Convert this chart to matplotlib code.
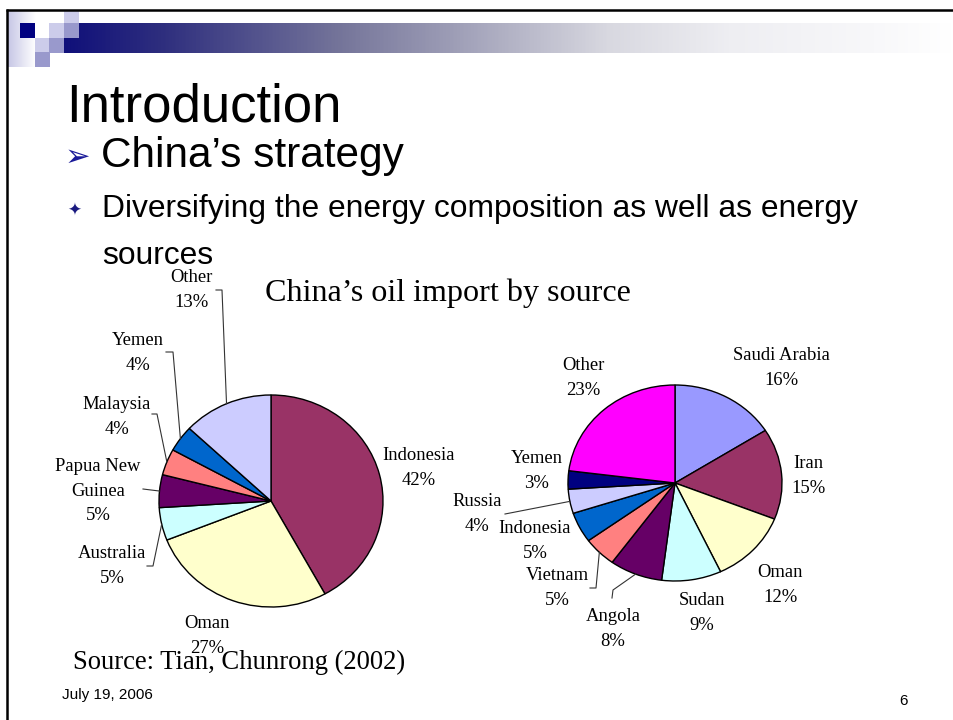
import matplotlib
matplotlib.use("Agg")
import matplotlib.pyplot as plt
import numpy as np
from matplotlib.patches import Rectangle
from matplotlib.colors import LinearSegmentedColormap

# ---------------- data ----------------
left_sources = ["Indonesia", "Oman", "Australia", "Papua New\nGuinea", "Malaysia", "Yemen", "Other"]
left_shares = [42, 27, 5, 5, 4, 4, 13]
left_colors = ["#993366", "#ffffcc", "#ccffff", "#660066", "#ff8080", "#0066cc", "#ccccff"]

right_sources = ["Saudi Arabia", "Iran", "Oman", "Sudan", "Angola", "Vietnam",
                 "Indonesia", "Russia", "Yemen", "Other"]
right_shares = [16, 15, 12, 9, 8, 5, 5, 4, 3, 23]
right_colors = ["#9999ff", "#993366", "#ffffcc", "#ccffff", "#660066", "#ff8080",
                "#0066cc", "#ccccff", "#000080", "#ff00ff"]

chart_title = "China\u2019s oil import by source"
slide_title = "Introduction"
bullet1 = "China\u2019s strategy"
bullet2_lines = ["Diversifying the energy composition as well as energy", "sources"]
source_note = "Source: Tian, Chunrong (2002)"
date_text = "July 19, 2006"
page_text = "6"

# label block centres (pixels) and leader elbows (pixels)
left_label_pos = [(419, 468), (207, 636), (112, 566), (98, 491), (117, 417), (138, 353), (191, 290)]
right_label_pos = [(781, 368), (808, 476), (780, 585), (702, 613), (613, 629), (557, 588),
                   (535, 541), (477, 514), (537, 471), (583, 378)]
left_leaders = {"Other": [(216, 290), (222, 290)], "Yemen": [(166, 352), (173, 352)],
                "Malaysia": [(152, 414), (157, 414)], "Papua New\nGuinea": [(143, 489), (151, 490)],
                "Australia": [(147, 566), (153, 566)]}
right_leaders = {"Russia": [(505, 514)], "Vietnam": [(590, 588), (596, 588)],
                 "Angola": [(612, 598), (613, 590)]}

W, H = 954, 720
fig = plt.figure(figsize=(W / 100, H / 100), dpi=100)
fig.patch.set_facecolor("white")


def px_axes(x0, y0, x1, y1, **kw):
    return fig.add_axes([x0 / W, 1 - y1 / H, (x1 - x0) / W, (y1 - y0) / H], **kw)


SANS = ["Liberation Sans", "DejaVu Sans"]
SERIF = ["Liberation Serif", "DejaVu Serif"]

# ---------------- pies ----------------
def make_pie(box, shares, colors):
    ax = px_axes(*box)
    wedges, _ = ax.pie(shares, colors=colors, startangle=90, counterclock=False, radius=1,
                       wedgeprops=dict(edgecolor="black", linewidth=1.0))
    ax.set_aspect("auto")
    ax.set_xlim(-1, 1)
    ax.set_ylim(-1, 1)
    for w in wedges:
        w.set_clip_on(False)
    return ax, wedges

ax1, w1 = make_pie((159, 395, 383, 607), left_shares, left_colors)
ax2, w2 = make_pie((568, 385, 782, 581), right_shares, right_colors)

# ---------------- overlay ----------------
ov = fig.add_axes([0, 0, 1, 1], zorder=5)
ov.set_xlim(0, W)
ov.set_ylim(H, 0)
ov.axis("off")
ov.patch.set_alpha(0)

# header gradient bar
stops = [(64, (16, 16, 122)), (160, (46, 46, 126)), (260, (85, 85, 142)), (340, (117, 117, 154)),
         (460, (160, 160, 184)), (608, (216, 216, 224)), (730, (238, 238, 242)),
         (876, (248, 248, 250)), (954, (255, 255, 255))]
cmap = LinearSegmentedColormap.from_list(
    "hdr", [((x - 64) / (954 - 64), tuple(c / 255 for c in rgb)) for x, rgb in stops])
ov.imshow(np.linspace(0, 1, 512)[None, :], cmap=cmap, extent=[64, 954, 53, 23],
          aspect="auto", zorder=1)
strip = LinearSegmentedColormap.from_list("strip", [(0.78, 0.78, 0.9), (1, 1, 1)])
ov.imshow(np.linspace(0, 1, 64)[None, :], cmap=strip, extent=[8, 36, 67, 11],
          aspect="auto", zorder=1)
light, medium, navy = "#ccccea", "#9999cc", "#000080"
for (x0, y0, c) in [(64, 10, light), (20, 23, navy), (49, 23, light), (64, 23, medium),
                    (35, 38, light), (49, 38, medium), (35, 52, medium)]:
    ov.add_patch(Rectangle((x0, y0), 15, 15 if y0 > 10 else 13, facecolor=c, edgecolor="none", zorder=2))
ov.set_xlim(0, W)
ov.set_ylim(H, 0)

# slide frame
ov.plot([6, W], [10, 10], color="black", lw=1.8, solid_capstyle="butt", zorder=3)
ov.plot([7, 7], [9, H], color="black", lw=1.8, solid_capstyle="butt", zorder=3)

# slide text
ov.text(66, 122, slide_title, fontsize=38, family=SANS, va="baseline", ha="left")
ov.text(65, 157, "\u27a2", fontsize=22, family=["DejaVu Sans"], color="#1a1a99", va="center", ha="left")
ov.text(101, 167, bullet1, fontsize=30.5, family=SANS, va="baseline", ha="left")
ov.text(67, 211, "\u2726", fontsize=12, family=["DejaVu Sans"], color="#1a1a80", va="center", ha="left")
ov.text(102, 217, bullet2_lines[0], fontsize=22.9, family=SANS, va="baseline", ha="left")
ov.text(102, 264, bullet2_lines[1], fontsize=22.9, family=SANS, va="baseline", ha="left")
ov.text(265, 301, chart_title, fontsize=23.1, family=SERIF, va="baseline", ha="left")
ov.text(73, 669, source_note, fontsize=19.2, family=SERIF, va="baseline", ha="left", zorder=6)
ov.text(62, 699, date_text, fontsize=11, family=SANS, va="baseline", ha="left")
ov.text(904, 705, page_text, fontsize=11, family=SANS, va="baseline", ha="center")


def to_ov(ax, xy):
    return ov.transData.inverted().transform(ax.transData.transform(xy))


def label_pie(ax, wedges, names, shares, positions, leaders):
    for w, name, s, (lx, ly) in zip(wedges, names, shares, positions):
        ov.text(lx, ly, f"{name}\n{s}%", fontsize=13.4, family=SERIF, ha="center", va="center",
                multialignment="center", linespacing=1.55, zorder=6)
        if name in leaders:
            mid = np.deg2rad((w.theta1 + w.theta2) / 2)
            ex, ey = to_ov(ax, (np.cos(mid), np.sin(mid)))
            pts = leaders[name] + [(ex, ey)]
            ov.plot([p[0] for p in pts], [p[1] for p in pts], color="#333333", lw=0.8, zorder=4)

label_pie(ax1, w1, left_sources, left_shares, left_label_pos, left_leaders)
label_pie(ax2, w2, right_sources, right_shares, right_label_pos, right_leaders)

fig.savefig("out.png", dpi=100, facecolor="white")
